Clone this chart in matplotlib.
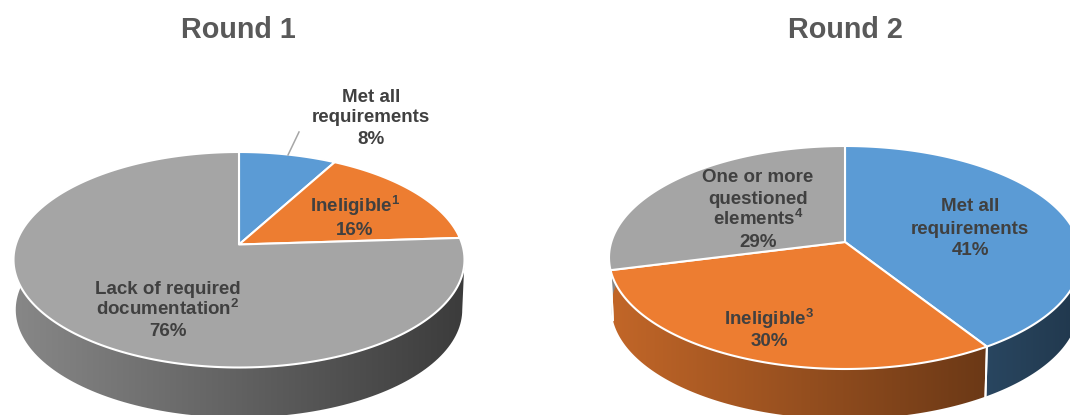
import numpy as np
import matplotlib
matplotlib.use("Agg")
import matplotlib.pyplot as plt
from matplotlib.patches import Polygon

plt.rcParams["font.family"] = ["Liberation Sans", "DejaVu Sans"]
plt.rcParams["mathtext.fontset"] = "custom"
plt.rcParams["mathtext.rm"] = "Liberation Sans:bold"
plt.rcParams["mathtext.bf"] = "Liberation Sans:bold"

# Survey outcomes, share of cases in each round (percent)
round1_values = [8, 16, 76]
round2_values = [41, 30, 29]
round1_colors = ["#5B9BD5", "#ED7D31", "#A5A5A5"]
round2_colors = ["#5B9BD5", "#ED7D31", "#A5A5A5"]

titles = ["Round 1", "Round 2"]
round1_labels = [
    ["Met all", "requirements", "8%"],
    ["Ineligible$^{\\mathbf{1}}$", "16%"],
    ["Lack of required", "documentation$^{\\mathbf{2}}$", "76%"],
]
round2_labels = [
    ["Met all", "requirements", "41%"],
    ["Ineligible$^{\\mathbf{3}}$", "30%"],
    ["One or more", "questioned", "elements$^{\\mathbf{4}}$", "29%"],
]

TEXT = "#404040"
WIDTH, HEIGHT = 1070, 415


class TiltedDisc:
    """Perspective view of a flat disc seen from above the front edge."""

    def __init__(self, cx, cy, half_w, up, down, depth, base_scale=0.99, base_dx=0.0):
        self.cx, self.cy = cx, cy
        self.k = (down - up) / (down + up)
        self.b = up * (1 + self.k)
        self.a = half_w * np.sqrt(1 - self.k ** 2)
        self.depth = depth
        self.base_scale = base_scale
        self.base_dx = base_dx

    def top(self, deg):
        t = np.radians(deg)
        u, v = np.cos(t), np.sin(t)
        w = 1 + self.k * v
        return self.cx + self.a * u / w, self.cy - self.b * v / w

    def base(self, deg):
        x, y = self.top(deg)
        return self.cx + self.base_dx + (x - self.cx) * self.base_scale, y + self.depth

    def front_range(self):
        s = np.degrees(np.arcsin(self.k))
        return -180 - s, -s


def draw_pie(ax, disc, values, colors):
    edges = 90 - np.cumsum([0] + list(values)) * 3.6
    lo, hi = disc.front_range()
    left = disc.cx - disc.a / np.sqrt(1 - disc.k ** 2)
    span = 2 * disc.a / np.sqrt(1 - disc.k ** 2)
    ramp = np.linspace(0.82, 0.36, 400)

    # Side wall first, so the top face covers its upper edge
    for start, stop, color in zip(edges[:-1], edges[1:], colors):
        for shift in (0, -360):
            a0 = max(stop + shift, lo)
            a1 = min(start + shift, hi)
            if a1 <= a0:
                continue
            ang = np.linspace(a0, a1, 120)
            xt, yt = disc.top(ang)
            xb, yb = disc.base(ang)
            wall = Polygon(np.r_[np.c_[xt, yt], np.c_[xb, yb][::-1]], closed=True,
                           transform=ax.transData, facecolor="none", edgecolor="none")
            ax.add_patch(wall)
            rgb = np.array(matplotlib.colors.to_rgb(color))
            img = (ramp[None, :, None] * rgb[None, None, :]).clip(0, 1)
            im = ax.imshow(img, extent=(left, left + span, HEIGHT + 60, 0),
                           aspect="auto", zorder=2, interpolation="bilinear")
            im.set_clip_path(wall)
            # Light seam where a slice boundary meets the front wall
            for a in (a0, a1):
                if lo < a < hi:
                    xa, ya = disc.top(a)
                    xc, yc = disc.base(a)
                    ax.plot([xa, xc], [ya, yc], color="white", lw=1.4, zorder=3)

    # Top face
    for start, stop, color in zip(edges[:-1], edges[1:], colors):
        ang = np.linspace(start, stop, 200)
        x, y = disc.top(ang)
        pts = np.r_[[[disc.cx, disc.cy]], np.c_[x, y]]
        ax.add_patch(Polygon(pts, closed=True, facecolor=color, edgecolor="white",
                             lw=1.5, joinstyle="round", zorder=4))


def draw_label(ax, x, y_lines, lines):
    for y, line in zip(y_lines, lines):
        ax.text(x, y, line, ha="center", va="baseline", fontsize=13.5,
                fontweight="bold", color=TEXT, zorder=6)


fig = plt.figure(figsize=(WIDTH / 100, HEIGHT / 100), dpi=100, facecolor="white")
ax = fig.add_axes([0, 0, 1, 1])

left_disc = TiltedDisc(239, 244.5, 225.5, 92.5, 123, 50)
right_disc = TiltedDisc(845, 242, 236, 96, 127, 50)
draw_pie(ax, left_disc, round1_values, round1_colors)
draw_pie(ax, right_disc, round2_values, round2_colors)

ax.set_xlim(0, WIDTH)
ax.set_ylim(HEIGHT, 0)
ax.axis("off")

for x, title in zip((238.5, 845), titles):
    ax.text(x, 38, title, ha="center", va="baseline", fontsize=20.7,
            fontweight="bold", color="#595959")

# Leader from the smallest slice up to its label
ax.plot([288, 299], [155, 132], color="#A6A6A6", lw=1.1, zorder=5)

draw_label(ax, 371, (102, 122, 144), round1_labels[0])
draw_label(ax, 355, (212, 235), round1_labels[1])
draw_label(ax, 168, (294, 315, 336), round1_labels[2])
draw_label(ax, 970, (211, 234, 255), round2_labels[0])
draw_label(ax, 769, (325, 346), round2_labels[1])
draw_label(ax, 758, (182, 204, 225, 247), round2_labels[2])

fig.savefig("out.png", dpi=100, facecolor="white")
